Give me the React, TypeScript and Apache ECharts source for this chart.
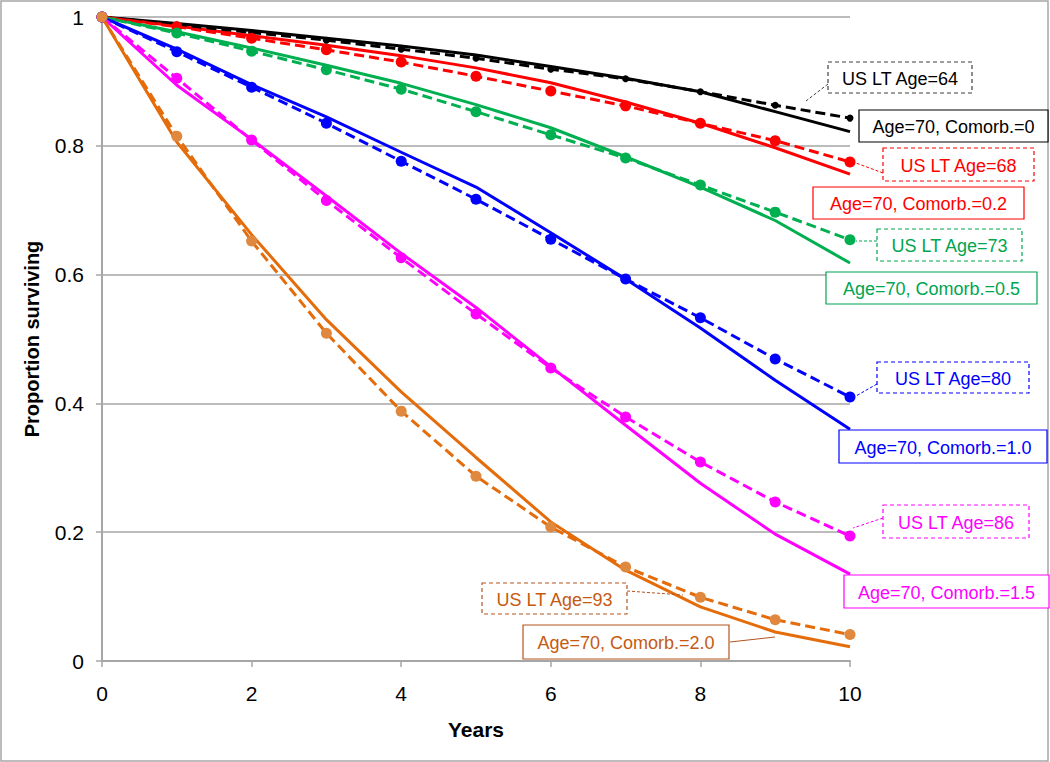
import React, { useEffect, useRef } from "react";
import * as echarts from "echarts";

const years = [0, 1, 2, 3, 4, 5, 6, 7, 8, 9, 10];

// US life-table curves (dashed, with markers)
const lt64 = [1, 0.988, 0.976, 0.964, 0.95, 0.936, 0.919, 0.904, 0.884, 0.863, 0.843];
const lt68 = [1, 0.985, 0.967, 0.949, 0.93, 0.908, 0.885, 0.862, 0.835, 0.808, 0.775];
const lt73 = [1, 0.975, 0.947, 0.918, 0.888, 0.853, 0.817, 0.781, 0.739, 0.697, 0.654];
const lt80 = [1, 0.946, 0.891, 0.835, 0.776, 0.717, 0.655, 0.593, 0.533, 0.469, 0.41];
const lt86 = [1, 0.905, 0.809, 0.715, 0.626, 0.539, 0.455, 0.379, 0.309, 0.247, 0.194];
const lt93 = [1, 0.815, 0.652, 0.509, 0.388, 0.287, 0.208, 0.146, 0.099, 0.064, 0.041];

// Age 70 with comorbidity (solid)
const c00 = [1, 0.99, 0.979, 0.967, 0.955, 0.941, 0.923, 0.905, 0.884, 0.853, 0.822];
const c02 = [1, 0.986, 0.971, 0.956, 0.94, 0.921, 0.898, 0.868, 0.835, 0.797, 0.756];
const c05 = [1, 0.977, 0.952, 0.925, 0.897, 0.864, 0.828, 0.783, 0.736, 0.684, 0.618];
const c10 = [1, 0.95, 0.895, 0.845, 0.79, 0.736, 0.665, 0.593, 0.517, 0.436, 0.36];
const c15 = [1, 0.894, 0.81, 0.722, 0.633, 0.549, 0.457, 0.366, 0.276, 0.197, 0.135];
const c20 = [1, 0.806, 0.662, 0.53, 0.418, 0.316, 0.216, 0.141, 0.084, 0.045, 0.022];

const groups = [
  { lt: lt64, c: c00, ltName: "US LT Age=64", cName: "Age=70, Comorb.=0", color: "#000000", marker: "#000000", size: 7 },
  { lt: lt68, c: c02, ltName: "US LT Age=68", cName: "Age=70, Comorb.=0.2", color: "#FF0000", marker: "#FF0000", size: 11 },
  { lt: lt73, c: c05, ltName: "US LT Age=73", cName: "Age=70, Comorb.=0.5", color: "#00B050", marker: "#00B050", size: 11 },
  { lt: lt80, c: c10, ltName: "US LT Age=80", cName: "Age=70, Comorb.=1.0", color: "#0000FF", marker: "#0000FF", size: 11 },
  { lt: lt86, c: c15, ltName: "US LT Age=86", cName: "Age=70, Comorb.=1.5", color: "#FF00FF", marker: "#FF00FF", size: 11 },
  { lt: lt93, c: c20, ltName: "US LT Age=93", cName: "Age=70, Comorb.=2.0", color: "#E46C0A", marker: "#E0883E", size: 11 },
];

const FONT = "Liberation Sans, Arial, Helvetica, sans-serif";

type Box = {
  text: string; x: number; y: number; w: number; h: number;
  color: string; border: string; dashed: boolean;
  leader?: [number, number, number, number];
};

const boxes: Box[] = [
  { text: "US LT Age=64", x: 828, y: 62, w: 144, h: 31, color: "#000000", border: "#404040", dashed: true, leader: [828, 84, 806, 101] },
  { text: "Age=70, Comorb.=0", x: 859, y: 110, w: 189, h: 32, color: "#000000", border: "#000000", dashed: false },
  { text: "US LT Age=68", x: 883, y: 148, w: 151, h: 33, color: "#FF0000", border: "#FF0000", dashed: true, leader: [883, 173, 856, 163] },
  { text: "Age=70, Comorb.=0.2", x: 813, y: 187, w: 211, h: 32, color: "#FF0000", border: "#FF0000", dashed: false },
  { text: "US LT Age=73", x: 877, y: 229, w: 145, h: 32, color: "#00A550", border: "#00A550", dashed: true, leader: [877, 241, 856, 241] },
  { text: "Age=70, Comorb.=0.5", x: 826, y: 272, w: 211, h: 32, color: "#00A550", border: "#00A550", dashed: false },
  { text: "US LT Age=80", x: 877, y: 362, w: 152, h: 31, color: "#0000FF", border: "#0000FF", dashed: true, leader: [877, 384, 856, 396] },
  { text: "Age=70, Comorb.=1.0", x: 839, y: 430, w: 208, h: 33, color: "#0000FF", border: "#0000FF", dashed: false },
  { text: "US LT Age=86", x: 883, y: 505, w: 146, h: 33, color: "#FF00FF", border: "#FF00FF", dashed: true, leader: [883, 518, 853, 528] },
  { text: "Age=70, Comorb.=1.5", x: 844, y: 575, w: 205, h: 33, color: "#FF00FF", border: "#FF00FF", dashed: false },
  { text: "US LT Age=93", x: 482, y: 583, w: 145, h: 31, color: "#C55A11", border: "#B4541E", dashed: true, leader: [627, 591, 683, 595] },
  { text: "Age=70, Comorb.=2.0", x: 523, y: 625, w: 206, h: 34, color: "#C55A11", border: "#B4541E", dashed: false, leader: [730, 642, 775, 637] },
];

export default function App() {
  const ref = useRef<HTMLDivElement>(null);

  useEffect(() => {
    if (!ref.current) return;
    const chart = echarts.init(ref.current, undefined, { renderer: "svg" });

    const series: any[] = [];
    groups.forEach((g) => {
      series.push({
        name: g.cName,
        type: "line",
        data: years.map((x, i) => [x, g.c[i]]),
        showSymbol: false,
        symbol: "none",
        lineStyle: { color: g.color, width: 3, type: "solid" },
        z: 2,
      });
      series.push({
        name: g.ltName,
        type: "line",
        data: years.map((x, i) => [x, g.lt[i]]),
        symbol: "circle",
        symbolSize: g.size,
        itemStyle: { color: g.marker, borderWidth: 0 },
        lineStyle: { color: g.color, width: 3, type: [10, 5] },
        z: 3,
      });
    });

    const graphic: any[] = [
      {
        type: "rect",
        shape: { x: 1, y: 1, width: 1047, height: 760 },
        style: { fill: "none", stroke: "#A6A6A6", lineWidth: 1.5 },
        silent: true,
        z: 0,
      },
    ];
    boxes.forEach((b) => {
      if (b.leader) {
        graphic.push({
          type: "line",
          shape: { x1: b.leader[0], y1: b.leader[1], x2: b.leader[2], y2: b.leader[3] },
          style: { stroke: b.border, lineWidth: 1, lineDash: b.dashed ? [3, 2] : null },
          z: 10,
        });
      }
      graphic.push({
        type: "rect",
        shape: { x: b.x, y: b.y, width: b.w, height: b.h },
        style: { fill: "#ffffff", stroke: b.border, lineWidth: 1.2, lineDash: b.dashed ? [4, 3] : null },
        z: 11,
      });
      graphic.push({
        type: "text",
        x: b.x + b.w / 2,
        y: b.y + b.h / 2 + 1,
        style: {
          text: b.text,
          fill: b.color,
          font: `18px ${FONT}`,
          align: "center",
          verticalAlign: "middle",
        },
        z: 12,
      });
    });

    chart.setOption({
      animation: false,
      backgroundColor: "#ffffff",
      grid: { left: 102, right: 200, top: 17, bottom: 101, containLabel: false },
      xAxis: {
        type: "value",
        min: 0,
        max: 10,
        interval: 2,
        name: "Years",
        nameLocation: "middle",
        nameGap: 58,
        nameTextStyle: { fontFamily: FONT, fontSize: 21, fontWeight: "bold", color: "#000" },
        axisLine: { show: true, lineStyle: { color: "#A6A6A6", width: 2 } },
        axisTick: { show: true, length: 6, inside: false, lineStyle: { color: "#A6A6A6", width: 1.5 } },
        axisLabel: { fontFamily: FONT, fontSize: 21, color: "#000", margin: 22 },
        splitLine: { show: false },
      },
      yAxis: {
        type: "value",
        min: 0,
        max: 1,
        interval: 0.2,
        name: "Proportion surviving",
        nameLocation: "middle",
        nameGap: 60,
        nameTextStyle: { fontFamily: FONT, fontSize: 20, fontWeight: "bold", color: "#000" },
        axisLine: { show: true, lineStyle: { color: "#A6A6A6", width: 2 } },
        axisTick: { show: true, length: 6, lineStyle: { color: "#A6A6A6", width: 1.5 } },
        axisLabel: { fontFamily: FONT, fontSize: 21, color: "#000", margin: 18 },
        splitLine: { show: true, lineStyle: { color: "#A6A6A6", width: 1.5 } },
      },
      series,
      graphic,
    });

    return () => chart.dispose();
  }, []);

  return (
    <div
      ref={ref}
      style={{ position: "fixed", left: 0, top: 0, width: 1050, height: 762, background: "#fff" }}
    />
  );
}
